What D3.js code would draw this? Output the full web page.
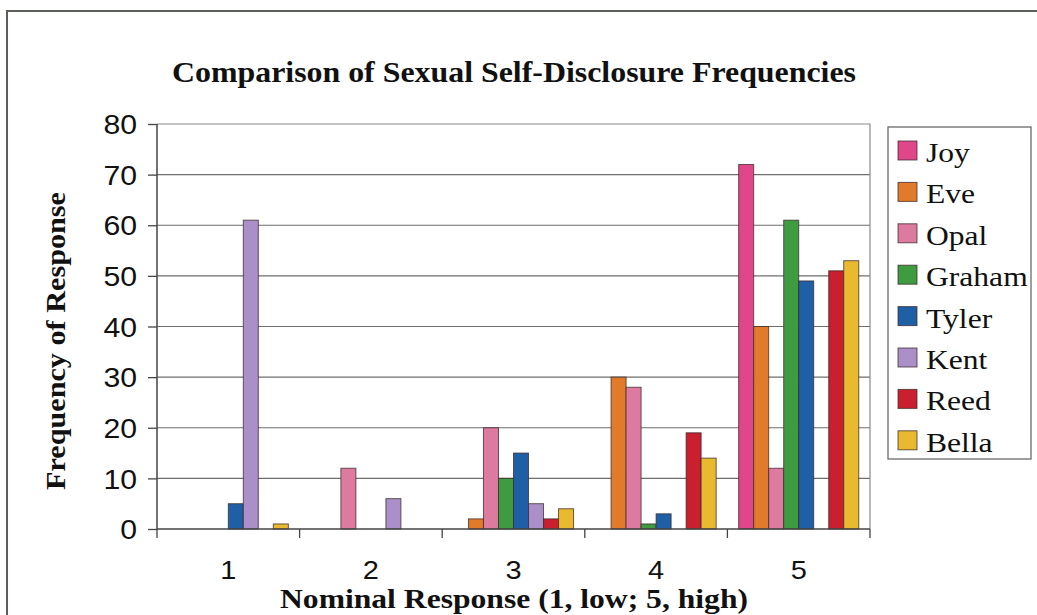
<!DOCTYPE html>
<html>
<head>
<meta charset="utf-8">
<script src="https://cdn.jsdelivr.net/npm/d3@7"></script>
<style>
  html, body { margin: 0; padding: 0; background: #ffffff; }
  svg { display: block; }
</style>
</head>
<body>
<svg id="chart" width="1037" height="615"></svg>
<script>
// Response categories (nominal scale 1 = low, 5 = high)
const categories = ["1", "2", "3", "4", "5"];

// Participants, in legend order
const people = ["Joy", "Eve", "Opal", "Graham", "Tyler", "Kent", "Reed", "Bella"];

// Frequency of each response, one array per participant (index = category)
const joy    = [0, 0, 0, 0, 72];
const eve    = [0, 0, 2, 30, 40];
const opal   = [0, 12, 20, 28, 12];
const graham = [0, 0, 10, 1, 61];
const tyler  = [5, 0, 15, 3, 49];
const kent   = [61, 6, 5, 0, 0];
const reed   = [0, 0, 2, 19, 51];
const bella  = [1, 0, 4, 14, 53];

const seriesValues = [joy, eve, opal, graham, tyler, kent, reed, bella];

const yTicks = [0, 10, 20, 30, 40, 50, 60, 70, 80];

const colors = ["#e0468a", "#e07b2c", "#dc7aa0", "#3e9b40", "#1f5fa6", "#ab8fc8", "#c91f2f", "#e9b930"];

const titleText = "Comparison of Sexual Self-Disclosure Frequencies";
const xTitleText = "Nominal Response (1, low; 5, high)";
const yTitleText = "Frequency of Response";

const svg = d3.select("#chart");
const plot = { left: 157, right: 870, top: 124, bottom: 529 };

const serif = "'Liberation Serif', 'Times New Roman', serif";
const sans = "'Liberation Sans', Arial, sans-serif";

// Horizontal widening applied to axis and legend lettering
const labelStretch = 1.12;
const legendStretch = 1.17;

// Outer frame of the chart object
svg.append("path")
  .attr("d", `M7,615 L7,11 L1037,11`)
  .attr("fill", "none")
  .attr("stroke", "#5a5f5a")
  .attr("stroke-width", 2);

const x = d3.scaleBand().domain(categories).range([plot.left, plot.right]).padding(0);
const bw = x.bandwidth();
const gap = bw * 0.75 / 9.5;
const xs = d3.scaleBand().domain(people).range([gap, bw - gap]).padding(0);
const y = d3.scaleLinear().domain([0, 80]).range([plot.bottom, plot.top]);

// Horizontal gridlines
svg.append("g")
  .selectAll("line")
  .data(yTicks.filter(t => t > 0 && t < 80))
  .join("line")
  .attr("x1", plot.left).attr("x2", plot.right)
  .attr("y1", d => y(d)).attr("y2", d => y(d))
  .attr("stroke", "#6e6e6e")
  .attr("stroke-width", 1.2);

// Plot area border (top and right)
svg.append("path")
  .attr("d", `M${plot.left},${y(80)} L${plot.right},${y(80)} L${plot.right},${plot.bottom}`)
  .attr("fill", "none")
  .attr("stroke", "#8a8a8a")
  .attr("stroke-width", 1.2);

// Bars
const groups = svg.append("g")
  .selectAll("g")
  .data(people)
  .join("g")
  .attr("fill", (d, i) => colors[i]);

groups.selectAll("rect")
  .data((p, i) => seriesValues[i].map((v, j) => ({ person: p, cat: categories[j], value: v })))
  .join("rect")
  .filter(d => d.value > 0)
  .attr("x", d => x(d.cat) + xs(d.person))
  .attr("y", d => y(d.value))
  .attr("width", xs.bandwidth())
  .attr("height", d => y(0) - y(d.value))
  .attr("stroke", "#3a2a2a")
  .attr("stroke-opacity", 0.75)
  .attr("stroke-width", 1);

// Y axis
const yAxis = d3.axisLeft(y).tickValues(yTicks).tickSize(9).tickPadding(11).tickFormat(d3.format("d"));
const gy = svg.append("g").attr("transform", `translate(${plot.left},0)`).call(yAxis);
gy.select(".domain").attr("stroke", "#444").attr("stroke-width", 1.5).attr("d", `M0,${plot.top}V${plot.bottom}`);
gy.selectAll(".tick line").attr("stroke", "#444").attr("stroke-width", 1.3);
gy.selectAll(".tick text")
  .attr("font-family", sans)
  .attr("font-size", 27)
  .attr("fill", "#111")
  .attr("dy", "0.36em")
  .attr("x", -20 / labelStretch)
  .attr("transform", `scale(${labelStretch},1)`);

// X axis baseline and boundary ticks
svg.append("line")
  .attr("x1", plot.left).attr("x2", plot.right)
  .attr("y1", y(0)).attr("y2", y(0))
  .attr("stroke", "#444").attr("stroke-width", 1.5);

const boundaries = categories.map(c => x(c)).concat([x(categories[categories.length - 1]) + bw]);
svg.append("g")
  .selectAll("line")
  .data(boundaries)
  .join("line")
  .attr("x1", d => d).attr("x2", d => d)
  .attr("y1", y(0)).attr("y2", y(0) + 9)
  .attr("stroke", "#444").attr("stroke-width", 1.3);

// Category labels
const xAxis = d3.axisBottom(x).tickSize(0).tickPadding(0);
const gx = svg.append("g").attr("transform", `translate(0,${y(0)})`).call(xAxis);
gx.select(".domain").remove();
gx.selectAll(".tick text")
  .attr("font-family", sans)
  .attr("font-size", 25)
  .attr("fill", "#111")
  .attr("dy", null)
  .attr("y", 50)
  .attr("transform", `scale(${labelStretch + 0.04},1)`);

// Title
svg.append("text")
  .attr("x", 514).attr("y", 82)
  .attr("text-anchor", "middle")
  .attr("font-family", serif)
  .attr("font-weight", "bold")
  .attr("font-size", 30)
  .attr("textLength", 684)
  .attr("lengthAdjust", "spacingAndGlyphs")
  .attr("fill", "#111")
  .text(titleText);

// X axis title
svg.append("text")
  .attr("x", 514).attr("y", 608)
  .attr("text-anchor", "middle")
  .attr("font-family", serif)
  .attr("font-weight", "bold")
  .attr("font-size", 27)
  .attr("textLength", 468)
  .attr("lengthAdjust", "spacingAndGlyphs")
  .attr("fill", "#111")
  .text(xTitleText);

// Y axis title
svg.append("text")
  .attr("transform", "translate(65,341) rotate(-90)")
  .attr("text-anchor", "middle")
  .attr("font-family", serif)
  .attr("font-weight", "bold")
  .attr("font-size", 28)
  .attr("textLength", 298)
  .attr("lengthAdjust", "spacingAndGlyphs")
  .attr("fill", "#111")
  .text(yTitleText);

// Legend
const legend = svg.append("g");
legend.append("rect")
  .attr("x", 888).attr("y", 127)
  .attr("width", 143).attr("height", 332)
  .attr("fill", "#fff")
  .attr("stroke", "#6a6a6a")
  .attr("stroke-width", 1.3);

const rows = legend.selectAll("g.row")
  .data(people)
  .join("g")
  .attr("class", "row")
  .attr("transform", (d, i) => `translate(898,${141 + i * 41.4})`);

rows.append("rect")
  .attr("width", 19).attr("height", 19)
  .attr("fill", (d, i) => colors[i])
  .attr("stroke", "#3a2a2a")
  .attr("stroke-opacity", 0.75)
  .attr("stroke-width", 1);

rows.append("text")
  .attr("x", 28 / legendStretch).attr("y", 21)
  .attr("transform", `scale(${legendStretch},1)`)
  .attr("font-family", serif)
  .attr("font-size", 27)
  .attr("fill", "#111")
  .text(d => d);
</script>
</body>
</html>
